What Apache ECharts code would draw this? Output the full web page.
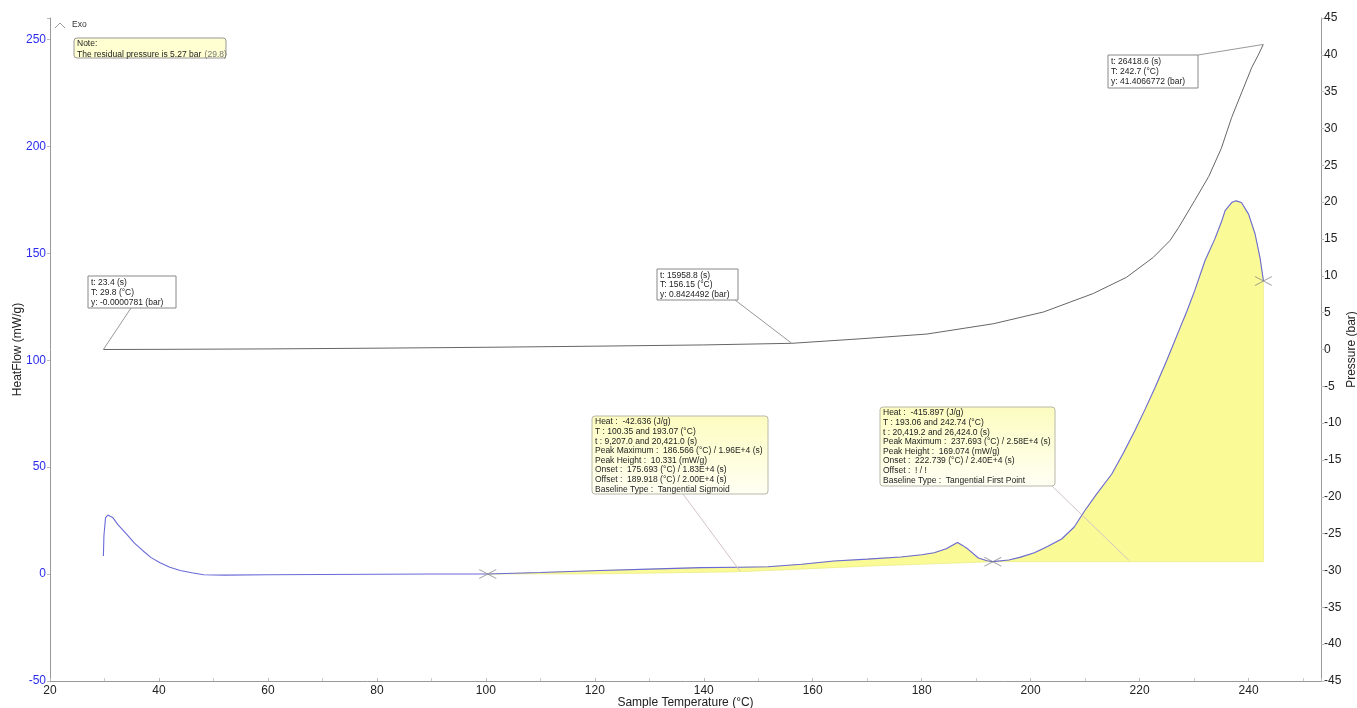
<!DOCTYPE html>
<html>
<head>
<meta charset="utf-8">
<script src="https://cdn.jsdelivr.net/npm/echarts@6/dist/echarts.min.js"></script>
<style>
html,body{margin:0;padding:0;background:#fff;}
#chart{width:1357px;height:708px;}
</style>
</head>
<body>
<div id="chart"></div>
<script>
// ---- data ----
const hfT = [29.8, 29.9, 30.2, 30.6, 30.9, 31.5, 32.5, 34.1, 35.5, 37.1, 38.5, 40.2, 42, 43.9, 46, 48.2, 52, 60, 70, 80, 90, 100.35, 110, 121, 130, 139.5, 146.7, 151.8, 158, 163.9, 170, 176.2, 180, 182.3, 184.5, 186.57, 187.5, 188.5, 190.4, 192, 193.07, 196, 198, 200.7, 203, 205.7, 208, 209.9, 212, 214.9, 217, 219.1, 221, 222.8, 225, 227.2, 228.7, 230.1, 232, 233.8, 235.1, 235.7, 236.9, 237.7, 238.7, 240, 241.2, 242.1, 242.74];
const hfV = [8.4, 18, 26.4, 27.6, 27.9, 26.5, 23, 18.6, 14.5, 10.8, 7.8, 5.3, 3.2, 1.7, 0.6, -0.3, -0.5, -0.3, -0.2, -0.1, 0, 0, 0.7, 1.7, 2.3, 3.0, 3.2, 3.4, 4.6, 6.1, 7.0, 8.0, 9.0, 10.0, 11.8, 14.8, 13.4, 11.7, 7.5, 6.2, 5.8, 6.6, 7.8, 10.0, 12.8, 16.4, 22, 29.5, 37, 46.8, 56.5, 66.9, 77, 87, 100, 113.7, 123, 132.4, 146.5, 156.6, 165.2, 169.9, 173.7, 174.5, 173.7, 168.3, 159, 148, 137];

const prT = [29.8, 40, 60, 80, 100, 120, 140, 156.15, 168.7, 181, 193.2, 202.4, 211.5, 217.6, 222.5, 225.6, 227.2, 230.1, 232.7, 235, 236.9, 238.8, 240.6, 241.8, 242.7];
const prV = [0, 0.02, 0.08, 0.18, 0.3, 0.45, 0.62, 0.84, 1.45, 2.1, 3.5, 5.1, 7.6, 9.8, 12.5, 14.8, 16.6, 20.2, 23.5, 27.3, 31.5, 35, 38.3, 40, 41.41];

// peak 1 sigmoid baseline
const base1T = [100.35, 121, 135, 146.7, 155, 163.9, 172, 182.3, 188, 193.07];
const base1V = [0, 0.1, 0.6, 1.1, 2.0, 3.0, 3.9, 4.8, 5.3, 5.8];
// peak 2 first-point baseline
const peak2Range = [193.07, 242.74];
const base2V = 5.8;

// integration limit markers
const markT = [100.35, 193.07, 242.74];
const markV = [0, 5.8, 137];

// annotation texts
const noteLines = ['Note:', 'The residual pressure is 5.27 bar'];
const noteSuffix = '(29.8)';
const prBox1 = ['t: 23.4 (s)', 'T: 29.8 (°C)', 'y: -0.0000781 (bar)'];
const prBox2 = ['t: 15958.8 (s)', 'T: 156.15 (°C)', 'y: 0.8424492 (bar)'];
const prBox3 = ['t: 26418.6 (s)', 'T: 242.7 (°C)', 'y: 41.4066772 (bar)'];
const hfBoxA = ['Heat :  -42.636 (J/g)', 'T : 100.35 and 193.07 (°C)', 't : 9,207.0 and 20,421.0 (s)', 'Peak Maximum :  186.566 (°C) / 1.96E+4 (s)', 'Peak Height :  10.331 (mW/g)', 'Onset :  175.693 (°C) / 1.83E+4 (s)', 'Offset :  189.918 (°C) / 2.00E+4 (s)', 'Baseline Type :  Tangential Sigmoid'];
const hfBoxB = ['Heat :  -415.897 (J/g)', 'T : 193.06 and 242.74 (°C)', 't : 20,419.2 and 26,424.0 (s)', 'Peak Maximum :  237.693 (°C) / 2.58E+4 (s)', 'Peak Height :  169.074 (mW/g)', 'Onset :  222.739 (°C) / 2.40E+4 (s)', 'Offset :  ! / !', 'Baseline Type :  Tangential First Point'];
// leader anchors in data space
const prAnchors = [[29.8, 0], [156.15, 0.84], [242.7, 41.41]];
const hfAnchors = [[146.7, 1.2], [218, 6.5]];

// ---- chart ----
const FONT = 'Liberation Sans, Arial, sans-serif';
const chart = echarts.init(document.getElementById('chart'), null, {renderer: 'canvas'});

const hfData = hfT.map((t, i) => [t, hfV[i]]);
const prData = prT.map((t, i) => [t, prV[i]]);

function peak1Poly() {
  const pts = [];
  hfT.forEach((t, i) => { if (t >= base1T[0] && t <= base1T[base1T.length - 1]) pts.push([t, hfV[i]]); });
  for (let i = base1T.length - 1; i >= 0; i--) pts.push([base1T[i], base1V[i]]);
  return pts;
}
function peak2Poly() {
  const pts = [];
  hfT.forEach((t, i) => { if (t >= peak2Range[0] && t <= peak2Range[1]) pts.push([t, hfV[i]]); });
  pts.push([peak2Range[1], base2V]);
  pts.push([peak2Range[0], base2V]);
  return pts;
}
function fillSeries(polyFn) {
  return {
    type: 'custom', xAxisIndex: 0, yAxisIndex: 0, silent: true, z: 1,
    data: [[150, 0]],
    renderItem: function (params, api) {
      const pts = polyFn().map(p => api.coord(p));
      return {type: 'polygon', shape: {points: pts},
        style: {fill: '#fafa96', stroke: '#e8e87a', lineWidth: 0.6}};
    }
  };
}

const axisLineStyle = {color: '#999', width: 1};

const option = {
  animation: false,
  backgroundColor: '#fff',
  grid: {left: 50, right: 36, top: 18, bottom: 27, containLabel: false, outerBoundsMode: 'none'},
  xAxis: {
    type: 'value', min: 20, max: 253.3, interval: 20,
    name: 'Sample Temperature (°C)', nameLocation: 'middle', nameGap: 16, nameMoveOverlap: false,
    nameTextStyle: {fontFamily: FONT, fontSize: 12, color: '#222'},
    axisLine: {show: true, onZero: false, lineStyle: axisLineStyle},
    axisTick: {show: true, inside: true, length: 3, lineStyle: {color: '#bbb'}},
    minorTick: {show: true, splitNumber: 2, length: 3, lineStyle: {color: '#ccc'}},
    splitLine: {show: false},
    axisLabel: {fontFamily: FONT, fontSize: 12, color: '#222', margin: 4,
      formatter: v => ((Math.round(v) - 20) % 20 === 0 && Math.abs(v - Math.round(v)) < 1e-6) ? String(Math.round(v)) : ''}
  },
  yAxis: [{
    type: 'value', min: -50, max: 260, interval: 50, position: 'left',
    name: 'HeatFlow (mW/g)', nameLocation: 'middle', nameGap: 26, nameRotate: 90, nameMoveOverlap: false,
    nameTextStyle: {fontFamily: FONT, fontSize: 12, color: '#222'},
    axisLine: {show: true, onZero: false, lineStyle: axisLineStyle},
    axisTick: {show: true, length: 3, lineStyle: {color: '#bbb'}},
    splitLine: {show: false},
    axisLabel: {fontFamily: FONT, fontSize: 12, color: '#2b2bef', margin: 4,
      formatter: v => (v % 50 === 0 ? String(v) : '')}
  }, {
    type: 'value', min: -45, max: 45, interval: 5, position: 'right',
    name: 'Pressure (bar)', nameLocation: 'middle', nameGap: 25, nameRotate: 90, nameMoveOverlap: false,
    nameTextStyle: {fontFamily: FONT, fontSize: 12, color: '#222'},
    axisLine: {show: true, onZero: false, lineStyle: axisLineStyle},
    axisTick: {show: true, length: 3, lineStyle: {color: '#bbb'}},
    splitLine: {show: false},
    axisLabel: {fontFamily: FONT, fontSize: 12, color: '#222', margin: 3}
  }],
  series: [
    fillSeries(peak1Poly),
    fillSeries(peak2Poly),
    {
      type: 'line', name: 'Pressure', yAxisIndex: 1, data: prData, showSymbol: false,
      lineStyle: {color: '#666', width: 1}, z: 3, silent: true
    },
    {
      type: 'line', name: 'HeatFlow', yAxisIndex: 0, data: hfData, showSymbol: false,
      lineStyle: {color: '#6a6ad8', width: 1.1}, z: 4, silent: true
    },
    {
      type: 'scatter', yAxisIndex: 0, z: 5, silent: true,
      data: markT.map((t, i) => [t, markV[i]]),
      symbol: 'path://M0,0L10,10M10,0L0,10', symbolSize: [17, 9], symbolKeepAspect: false,
      itemStyle: {color: 'rgba(0,0,0,0)', borderColor: '#888', borderWidth: 1}
    }
  ]
};
chart.setOption(option);

// ---- annotations ----
function textBox(x, y, w, h, lines, opts) {
  const lh = opts.lineHeight || 9.7;
  const children = [{
    type: 'rect', shape: {x: x, y: y, width: w, height: h, r: opts.r || 0},
    style: {fill: opts.fill, stroke: opts.stroke || '#888', lineWidth: 1}, z: 10
  }];
  lines.forEach((ln, i) => {
    children.push({
      type: 'text', x: x + 3, y: y + (opts.padTop || 2) + i * lh, z: 11,
      style: {text: ln, fontFamily: FONT, fontSize: opts.fontSize || 8.5, fill: '#222', verticalAlign: 'top'}
    });
  });
  return children;
}
function lead(from, to, color) {
  return {type: 'line', shape: {x1: from[0], y1: from[1], x2: to[0], y2: to[1]},
    style: {stroke: color, lineWidth: 1}, z: 9};
}
const pPx = prAnchors.map(a => chart.convertToPixel({xAxisIndex: 0, yAxisIndex: 1}, a));
const hPx = hfAnchors.map(a => chart.convertToPixel({xAxisIndex: 0, yAxisIndex: 0}, a));
const yellowGrad = new echarts.graphic.LinearGradient(0, 0, 0, 1, [
  {offset: 0, color: '#fcfcc0'}, {offset: 1, color: '#fffff4'}]);

let g = [];
// Exo caret
g.push({type: 'polyline', shape: {points: [[55, 28], [60, 23], [65, 28]]}, style: {stroke: '#999', lineWidth: 1, fill: null}});
g.push({type: 'text', x: 72, y: 25, style: {text: 'Exo', fontFamily: FONT, fontSize: 8.5, fill: '#333', verticalAlign: 'middle'}});
// note
g.push({type: 'rect', shape: {x: 74, y: 38, width: 152, height: 20, r: 3}, style: {fill: '#ffffd2', stroke: '#999', lineWidth: 1}, z: 10});
g.push({type: 'text', x: 77, y: 39.5, z: 11, style: {text: noteLines[0], fontFamily: FONT, fontSize: 8.5, fill: '#222', verticalAlign: 'top'}});
g.push({type: 'text', x: 77, y: 48.5, z: 11, style: {
  text: '{a|' + noteLines[1] + '} {b|' + noteSuffix + '}',
  verticalAlign: 'top',
  rich: {a: {fontFamily: FONT, fontSize: 8.5, fill: '#222'}, b: {fontFamily: FONT, fontSize: 8.5, fill: '#777'}}
}});
// pressure boxes
g = g.concat(textBox(88, 276, 88, 32, prBox1, {fill: '#fff', lineHeight: 9.8, padTop: 2.5}));
g.push(lead([131, 308], pPx[0], '#999'));
g = g.concat(textBox(657, 269, 81, 31, prBox2, {fill: '#fff', lineHeight: 9.6, padTop: 2}));
g.push(lead([735, 300], pPx[1], '#999'));
g = g.concat(textBox(1108, 55, 90, 33, prBox3, {fill: '#fff', lineHeight: 9.8, padTop: 2.5}));
g.push(lead([1198, 55], pPx[2], '#999'));
// heat flow boxes
g = g.concat(textBox(592, 416, 176, 78, hfBoxA, {fill: yellowGrad, stroke: '#b8b8a8', r: 3, lineHeight: 9.6, padTop: 1.5}));
g.push(lead([683, 494], hPx[0], '#d4c4c4'));
g = g.concat(textBox(880, 407, 175, 79, hfBoxB, {fill: yellowGrad, stroke: '#b8b8a8', r: 3, lineHeight: 9.6, padTop: 1.5}));
g.push(lead([1052, 486], hPx[1], '#d4c4c4'));

chart.setOption({graphic: {elements: g}});
</script>
</body>
</html>
